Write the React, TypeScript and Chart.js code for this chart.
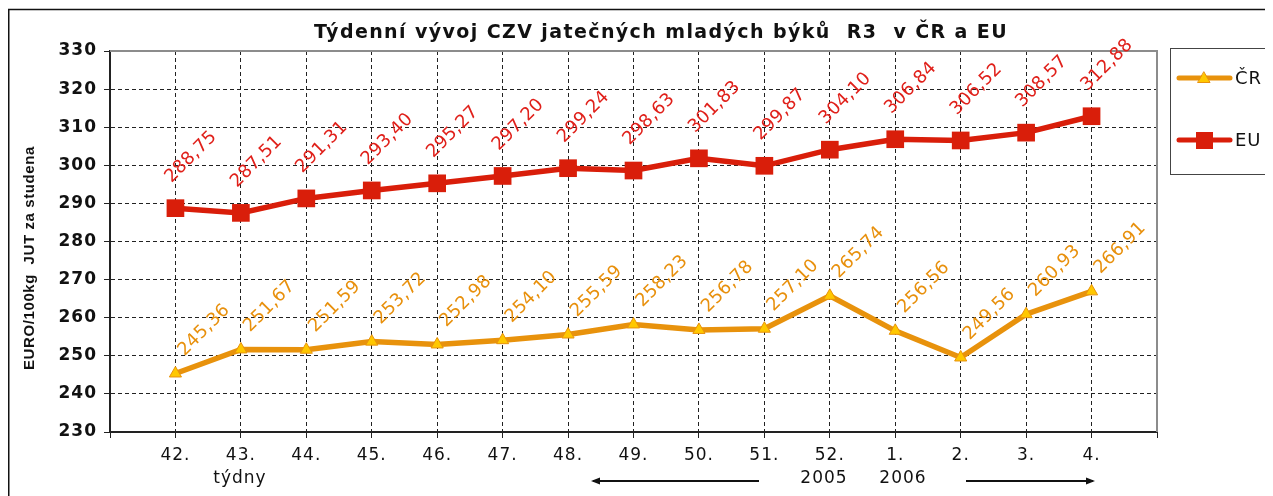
import React, { useEffect, useRef } from 'react';
import { Chart, registerables } from 'chart.js';

Chart.register(...registerables);

// ---- data ----
const weekLabels = ['42.', '43.', '44.', '45.', '46.', '47.', '48.', '49.', '50.', '51.', '52.', '1.', '2.', '3.', '4.'];
const crValues = [245.36, 251.67, 251.59, 253.72, 252.98, 254.10, 255.59, 258.23, 256.78, 257.10, 265.74, 256.56, 249.56, 260.93, 266.91];
const euValues = [288.75, 287.51, 291.31, 293.40, 295.27, 297.20, 299.24, 298.63, 301.83, 299.87, 304.10, 306.84, 306.52, 308.57, 312.88];
const seriesNames = ['ČR', 'EU'];
const yMin = 230;
const yMax = 330;
const yStep = 10;
const chartTitle = 'Týdenní vývoj CZV jatečných mladých býků  R3  v ČR a EU';
const yAxisTitle = 'EURO/100kg  JUT za studena';
const xAxisTitle = 'týdny';
const yearLabels = ['2005', '2006'];

// ---- styles ----
const CR_LINE = '#E8920C';
const CR_FILL = '#FFC800';
const EU_LINE = '#D91E0A';
const CR_TEXT = '#E8900C';
const EU_TEXT = '#E0201A';
const FONT = '"DejaVu Sans", Verdana, sans-serif';

const fmt = (v: number) => v.toFixed(2).replace('.', ',');

function drawTri(ctx: CanvasRenderingContext2D, x: number, y: number, r: number) {
  const h = r * 1.5;
  const half = r * 0.866;
  ctx.beginPath();
  ctx.moveTo(x, y - r);
  ctx.lineTo(x + half, y - r + h);
  ctx.lineTo(x - half, y - r + h);
  ctx.closePath();
  ctx.fillStyle = CR_FILL;
  ctx.fill();
  ctx.lineWidth = 1;
  ctx.strokeStyle = CR_LINE;
  ctx.stroke();
}

function arrow(ctx: CanvasRenderingContext2D, x1: number, x2: number, y: number) {
  ctx.beginPath();
  ctx.moveTo(x1, y);
  ctx.lineTo(x2, y);
  ctx.lineWidth = 2;
  ctx.strokeStyle = '#111';
  ctx.stroke();
  const dir = x2 > x1 ? 1 : -1;
  ctx.beginPath();
  ctx.moveTo(x2 + dir * 2, y);
  ctx.lineTo(x2 - dir * 7, y - 3.5);
  ctx.lineTo(x2 - dir * 7, y + 3.5);
  ctx.closePath();
  ctx.fillStyle = '#111';
  ctx.fill();
}

const decorPlugin = {
  id: 'decor',
  beforeUpdate(chart: any) {
    chart.ctx.letterSpacing = '1px';
  },
  beforeDraw(chart: any) {
    const ctx = chart.ctx as CanvasRenderingContext2D;
    ctx.save();
    ctx.fillStyle = '#fff';
    ctx.fillRect(0, 0, chart.width, chart.height);
    ctx.restore();
    (ctx as any).letterSpacing = '1px';
  },
  beforeDatasetsDraw(chart: any) {
    const ctx = chart.ctx as CanvasRenderingContext2D;
    const a = chart.chartArea;
    ctx.save();
    ctx.strokeStyle = '#8c8c8c';
    ctx.lineWidth = 2;
    ctx.beginPath();
    ctx.moveTo(a.left, a.top);
    ctx.lineTo(a.right, a.top);
    ctx.lineTo(a.right, a.bottom);
    ctx.stroke();
    ctx.restore();
  },
  afterDatasetsDraw(chart: any) {
    const ctx = chart.ctx as CanvasRenderingContext2D;
    ctx.save();
    ctx.font = `18px ${FONT}`;
    (ctx as any).letterSpacing = '0.3px';
    ctx.textAlign = 'left';
    ctx.textBaseline = 'alphabetic';
    const specs = [
      { idx: 0, color: CR_TEXT, vals: crValues, dx: 9, dy: -17 },
      { idx: 1, color: EU_TEXT, vals: euValues, dx: -4, dy: -25 },
    ];
    specs.forEach((s) => {
      const meta = chart.getDatasetMeta(s.idx);
      meta.data.forEach((pt: any, i: number) => {
        ctx.save();
        ctx.translate(pt.x + s.dx, pt.y + s.dy);
        ctx.rotate(-Math.PI / 4);
        ctx.fillStyle = s.color;
        ctx.fillText(fmt(s.vals[i]), 0, 0);
        ctx.restore();
      });
    });
    ctx.restore();
  },
  afterDraw(chart: any) {
    const ctx = chart.ctx as CanvasRenderingContext2D;
    ctx.save();
    // title
    ctx.fillStyle = '#111';
    ctx.font = `bold 19px ${FONT}`;
    (ctx as any).letterSpacing = '1.4px';
    ctx.textAlign = 'center';
    ctx.textBaseline = 'middle';
    ctx.fillText(chartTitle, 653, 25);

    // y title
    ctx.save();
    ctx.translate(22, 250);
    ctx.rotate(-Math.PI / 2);
    ctx.font = `bold 15px "Liberation Sans", Arial, sans-serif`;
    (ctx as any).letterSpacing = '0.6px';
    ctx.fillText(yAxisTitle, 0, 0);
    ctx.restore();

    // bottom texts
    ctx.font = `17px ${FONT}`;
    (ctx as any).letterSpacing = '1px';
    ctx.fillText(xAxisTitle, 232, 471);
    ctx.fillText(yearLabels[0], 816, 471);
    ctx.fillText(yearLabels[1], 895, 471);
    arrow(ctx, 751, 585, 473);
    arrow(ctx, 958, 1085, 473);

    // legend
    ctx.strokeStyle = '#444';
    ctx.lineWidth = 1;
    ctx.strokeRect(1162.5, 40.5, 102, 126);
    ctx.lineCap = 'round';
    ctx.lineWidth = 5;
    ctx.strokeStyle = CR_LINE;
    ctx.beginPath();
    ctx.moveTo(1171, 70);
    ctx.lineTo(1222, 70);
    ctx.stroke();
    drawTri(ctx, 1196, 71, 7);
    ctx.lineWidth = 5;
    ctx.strokeStyle = EU_LINE;
    ctx.beginPath();
    ctx.moveTo(1171, 132);
    ctx.lineTo(1222, 132);
    ctx.stroke();
    ctx.fillStyle = EU_LINE;
    ctx.fillRect(1188, 124, 17, 17);
    ctx.fillStyle = '#111';
    ctx.textAlign = 'left';
    ctx.font = `18px ${FONT}`;
    ctx.fillText(seriesNames[0], 1227, 71);
    ctx.fillText(seriesNames[1], 1227, 133);

    // outer frame
    ctx.lineCap = 'butt';
    ctx.strokeStyle = '#111';
    ctx.lineWidth = 1.5;
    ctx.beginPath();
    ctx.moveTo(0.75, chart.height);
    ctx.lineTo(0.75, 1.5);
    ctx.lineTo(chart.width, 1.5);
    ctx.stroke();
    ctx.restore();
  },
};

export default function App() {
  const ref = useRef<HTMLCanvasElement>(null);
  useEffect(() => {
    if (!ref.current) return;
    const gridColor = '#222';
    const chart = new Chart(ref.current, {
      type: 'line',
      data: {
        datasets: [
          {
            label: seriesNames[0],
            data: crValues.map((v, i) => ({ x: i + 1, y: v })),
            borderColor: CR_LINE,
            backgroundColor: CR_FILL,
            borderWidth: 5.5,
            pointStyle: 'triangle',
            pointRadius: 7,
            pointBackgroundColor: CR_FILL,
            pointBorderColor: CR_LINE,
            pointBorderWidth: 1,
            tension: 0,
          },
          {
            label: seriesNames[1],
            data: euValues.map((v, i) => ({ x: i + 1, y: v })),
            borderColor: EU_LINE,
            backgroundColor: EU_LINE,
            borderWidth: 5.5,
            pointStyle: 'rect',
            pointRadius: 12.5,
            pointBackgroundColor: EU_LINE,
            pointBorderColor: EU_LINE,
            pointBorderWidth: 0,
            tension: 0,
          },
        ],
      },
      options: {
        animation: false,
        responsive: false,
        maintainAspectRatio: false,
        layout: { padding: { top: 43, right: 116, left: 0, bottom: 0 } },
        plugins: {
          legend: { display: false },
          title: { display: false },
          tooltip: { enabled: false },
        },
        scales: {
          x: {
            type: 'linear',
            min: 0,
            max: weekLabels.length + 1,
            afterFit: (s: any) => { s.height = 64; },
            ticks: {
              stepSize: 1,
              autoSkip: false,
              maxRotation: 0,
              padding: 7,
              color: '#111',
              font: { family: FONT, size: 17 },
              callback: (v: any) => weekLabels[Number(v) - 1] ?? '',
            },
            grid: {
              color: (c: any) => (c.tick && (c.tick.value === 0 || c.tick.value === weekLabels.length + 1) ? 'rgba(0,0,0,0)' : gridColor),
              lineWidth: 1,
              drawTicks: true,
              tickLength: 6,
              tickColor: '#222',
              tickBorderDash: [],
            },
            border: { display: true, color: '#222', width: 2, dash: [4, 3] },
          },
          y: {
            type: 'linear',
            min: yMin,
            max: yMax,
            afterFit: (s: any) => { s.width = 102; },
            ticks: {
              stepSize: yStep,
              padding: 7,
              color: '#111',
              font: { family: FONT, size: 17, weight: 'bold' },
            },
            grid: {
              color: (c: any) => (c.tick && (c.tick.value === yMin || c.tick.value === yMax) ? 'rgba(0,0,0,0)' : gridColor),
              lineWidth: 1,
              drawTicks: true,
              tickLength: 6,
              tickColor: '#222',
              tickBorderDash: [],
            },
            border: { display: true, color: '#222', width: 2, dash: [4, 3] },
          },
        },
      },
      plugins: [decorPlugin],
    } as any);
    return () => chart.destroy();
  }, []);
  return (
    <div style={{ width: 1265, height: 488 }}>
      <canvas ref={ref} width={1265} height={488} style={{ display: 'block', width: 1265, height: 488 }} />
    </div>
  );
}
